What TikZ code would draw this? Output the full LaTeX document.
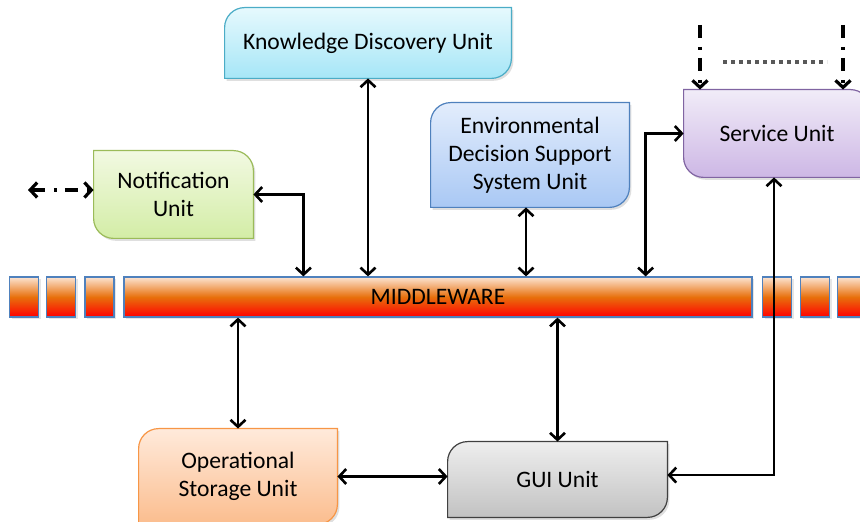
\documentclass[tikz,border=0pt]{standalone}
\usepackage{fontspec}
\setmainfont{Carlito}
\usetikzlibrary{arrows.meta,backgrounds,shadows}

\definecolor{kduB}{HTML}{4BACC6}\definecolor{kduT}{HTML}{E6F9FD}\definecolor{kduF}{HTML}{A6E6F7}
\definecolor{nuB}{HTML}{9BBB59}\definecolor{nuT}{HTML}{F2F9E2}\definecolor{nuF}{HTML}{D3EDA6}
\definecolor{edB}{HTML}{4F81BD}\definecolor{edT}{HTML}{E3EDFC}\definecolor{edF}{HTML}{A9C8F4}
\definecolor{suB}{HTML}{8064A2}\definecolor{suT}{HTML}{F1ECF8}\definecolor{suF}{HTML}{CDB7E5}
\definecolor{osB}{HTML}{F79646}\definecolor{osT}{HTML}{FFEADB}\definecolor{osF}{HTML}{FBBD8E}
\definecolor{guB}{HTML}{404040}\definecolor{guT}{HTML}{EEEEEE}\definecolor{guF}{HTML}{C2C2C2}
\definecolor{mwT}{HTML}{FCE4D2}\definecolor{mwM}{HTML}{E8700C}\definecolor{mwF}{HTML}{FF0000}

\def\rr{10pt}% rayon des coins
% coins arrondis en haut a gauche et en bas a droite
\newcommand{\formeA}[2]{\shadedraw[box,#2] (#1.north east) -- ([yshift=\rr]#1.south east) arc[start angle=0,end angle=-90,radius=\rr] -- (#1.south west) -- ([yshift=-\rr]#1.north west) arc[start angle=180,end angle=90,radius=\rr] -- cycle;}
% coins arrondis en haut a droite et en bas a gauche
\newcommand{\formeB}[2]{\shadedraw[box,#2] (#1.north west) -- ([xshift=-\rr]#1.north east) arc[start angle=90,end angle=0,radius=\rr] -- (#1.south east) -- ([xshift=\rr]#1.south west) arc[start angle=270,end angle=180,radius=\rr] -- cycle;}

\tikzset{
	unit/.style={inner sep=0pt,align=center,font=\fontsize{11.8}{14}\selectfont},
	box/.style={line width=.6pt,drop shadow={shadow xshift=1pt,shadow yshift=-1.2pt,opacity=.25}},
	link/.style={line width=1.3pt,<->},
	dashdot/.style={line width=1.6pt,dash pattern=on 6.5pt off 4.5pt on 1.5pt off 4pt},
	dotline/.style={line width=2pt,color=black!65,dash pattern=on 2pt off 2pt},
	bar/.style={draw=edB,line width=.6pt,top color=mwT,bottom color=mwF,middle color=mwM,inner sep=0pt,minimum height=20pt,
		drop shadow={shadow xshift=1pt,shadow yshift=-1.2pt,opacity=.2}},
}

\begin{document}
\begin{tikzpicture}[x=0.5pt,y=-0.5pt,>={Straight Barb[length=3.5pt,width=7.5pt]}]
	\useasboundingbox (0,0) rectangle (860,522);
	% unites
	\node[unit,minimum width=143pt,minimum height=35pt] (kdu) at (368,43) {Knowledge Discovery Unit};
	\node[unit,minimum width=79.5pt,minimum height=43.5pt] (nu) at (173.5,194.5) {Notification\\Unit};
	\node[unit,minimum width=99pt,minimum height=52pt] (edss) at (530,155) {Environmental\\Decision Support\\System Unit};
	\node[unit,minimum width=93pt,minimum height=43.5pt] (su) at (777,133.5) {Service Unit};
	\node[unit,minimum width=99pt,minimum height=47.5pt] (osu) at (238,476.5) {Operational\\Storage Unit};
	\node[unit,minimum width=109.5pt,minimum height=37.5pt] (gui) at (557.5,479.5) {GUI Unit};
	\begin{pgfonlayer}{background}
		\formeA{kdu}{draw=kduB,top color=kduT,bottom color=kduF}
		\formeB{nu}{draw=nuB,top color=nuT,bottom color=nuF}
		\formeA{edss}{draw=edB,top color=edT,bottom color=edF}
		\formeB{su}{draw=suB,top color=suT,bottom color=suF}
		\formeA{osu}{draw=osB,top color=osT,bottom color=osF}
		\formeA{gui}{draw=guB,top color=guT,bottom color=guF}
	\end{pgfonlayer}
	% middleware
	\foreach \x/\n in {24/s1,61/s2,99.5/s3,777/s4,815/s5,852/s6}{
		\node[bar,minimum width=14.5pt] (\n) at (\x,297) {};
	}
	\node[bar,unit,minimum width=314pt] (mw) at (438,297) {MIDDLEWARE};
	% fleches
	\draw[link] (nu.east) -| ([xshift=90pt]mw.north west);
	\draw[link] (kdu.south) -- (kdu.south |- mw.north);
	\draw[link] ([xshift=-2pt]edss.south) -- ([xshift=-2pt]edss.south |- mw.north);
	\draw[link] ([xshift=-53.5pt]mw.north east) |- (su.west);
	\draw[link] ([xshift=-1.5pt]su.south) |- ([yshift=2.2pt]gui.east);
	\draw[link] (osu.north |- mw.south) -- (osu.north);
	\draw[link] (gui.north |- mw.south) -- (gui.north);
	\draw[link] (osu.east) -- (osu.east -| gui.west);
	% liens externes
	\coordinate (ext) at (28,190);
	\coordinate (sa) at (700,25);
	\coordinate (sb) at (843,25);
	\coordinate (da) at (723,62);
	\coordinate (db) at (827,62);
	\draw[dashdot,<->] (ext) -- (ext -| nu.west);
	\draw[dashdot,->] (sa) -- (sa |- su.north);
	\draw[dashdot,->] (sb) -- (sb |- su.north);
	\draw[dotline] (da) -- (db);
\end{tikzpicture}
\end{document}
